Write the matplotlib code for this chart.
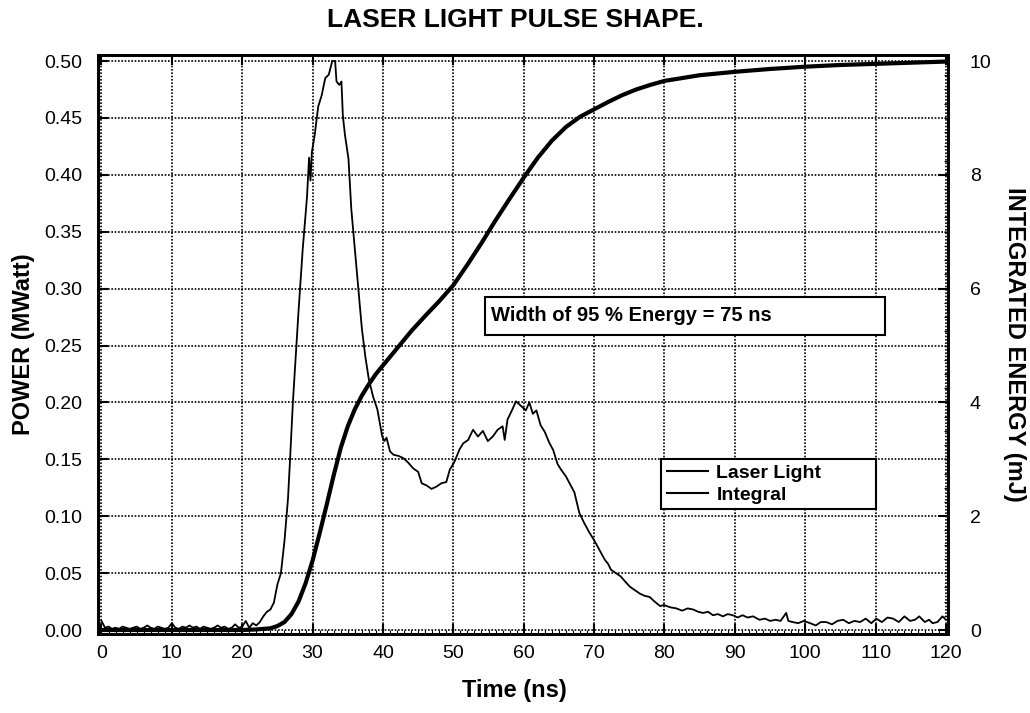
# plot.py
# Laser light pulse shape with integrated energy on a second axis
# Saves out.png

import matplotlib.pyplot as plt
from matplotlib.lines import Line2D
from matplotlib.patches import Rectangle
from matplotlib.ticker import MultipleLocator, FormatStrFormatter

plt.rcParams['font.family'] = ['Liberation Sans', 'DejaVu Sans']

# ── Data ─────────────────────────────────────────────────────────────────────
laser_t = [
    0, 0.5, 1, 1.5, 2, 2.5, 3, 3.5, 4, 4.5, 5, 5.5, 6, 6.5, 7, 7.5, 8, 8.5, 9, 9.5,
    10, 10.5, 11, 11.5, 12, 12.5, 13, 13.5, 14, 14.5, 15, 15.5, 16, 16.5, 17, 17.5,
    18, 18.5, 19, 19.5, 20, 20.5, 21, 21.5, 22, 22.5, 23, 23.5, 24, 24.5, 25, 25.5,
    26, 26.5, 26.8, 27.2, 27.6, 28, 28.6, 29.2, 29.5, 29.7, 29.9, 30.3, 30.8, 31.3,
    31.8, 32.3, 32.8, 33.2, 33.4, 33.8, 34.1, 34.3, 34.6, 35.1, 35.5, 36, 36.5, 37,
    37.5, 38, 38.6, 39.2, 39.9, 40.2, 40.5, 41, 41.5, 42.2, 42.9, 43.6, 44.3, 45,
    45.5, 46.2, 46.9, 47.6, 48.3, 49, 49.5, 50.1, 50.9, 51.4, 52.1, 52.8, 53.5,
    54.2, 54.9, 55.6, 56.3, 57, 57.3, 57.7, 58.4, 58.9, 59.6, 60.3, 60.8, 61.3,
    61.8, 62.4, 63, 63.6, 64.2, 64.8, 65.3, 66, 66.6, 67.2, 67.9, 68.6, 69.3, 70,
    70.8, 71.5, 72, 72.4, 73.1, 73.8, 74.5, 75.1, 75.8, 76.5, 77.2, 77.9, 78.6,
    79.4, 79.9, 80.8, 81.7, 82.5, 83.3, 84.1, 84.8, 85.5, 86.2, 86.9, 87.6, 88.3,
    89, 89.7, 90.4, 91.1, 91.8, 92.6, 93.5, 94.3, 95, 95.8, 96.5, 97.3, 97.6, 98.2,
    99, 99.8, 100.7, 101.5, 102.2, 103, 103.8, 104.6, 105.4, 106.2, 107, 107.8,
    108.6, 109.4, 110.1, 110.9, 111.7, 112.5, 113.3, 114.1, 114.9, 115.6, 116.2,
    117, 117.6, 118.1, 118.8, 119.5, 120,
]
laser_p = [
    0.008, 0.002, 0.003, 0.001, 0.002, 0.001, 0.003, 0.002, 0.001, 0.002, 0.003,
    0.001, 0.002, 0.004, 0.002, 0.001, 0.003, 0.002, 0.001, 0.002,
    0.006, 0.002, 0.001, 0.003, 0.002, 0.004, 0.002, 0.003, 0.001, 0.003, 0.002,
    0.001, 0.002, 0.004, 0.002, 0.003,
    0.001, 0.002, 0.005, 0.002, 0.003, 0.008, 0.002, 0.006, 0.004, 0.007, 0.012,
    0.016, 0.018, 0.024, 0.040, 0.050,
    0.078, 0.115, 0.150, 0.200, 0.240, 0.280, 0.335, 0.380, 0.415, 0.395, 0.420,
    0.435, 0.460, 0.470,
    0.485, 0.488, 0.500, 0.500, 0.482, 0.479, 0.482, 0.452, 0.435, 0.414, 0.370,
    0.335, 0.300, 0.265,
    0.240, 0.220, 0.205, 0.194, 0.170, 0.166, 0.169, 0.157, 0.154, 0.153, 0.151,
    0.147, 0.142, 0.139,
    0.129, 0.127, 0.124, 0.126, 0.129, 0.130, 0.141, 0.147, 0.159, 0.164, 0.167,
    0.176, 0.170,
    0.175, 0.166, 0.170, 0.176, 0.179, 0.167, 0.185, 0.194, 0.201, 0.197, 0.193,
    0.200, 0.190,
    0.193, 0.180, 0.174, 0.165, 0.158, 0.146, 0.141, 0.135, 0.128, 0.121, 0.103,
    0.094, 0.086, 0.079,
    0.070, 0.062, 0.058, 0.053, 0.050, 0.047, 0.042, 0.038, 0.035, 0.032, 0.030,
    0.029, 0.025,
    0.021, 0.022, 0.020, 0.019, 0.017, 0.019, 0.018, 0.016, 0.015, 0.016, 0.013,
    0.014, 0.012,
    0.014, 0.013, 0.011, 0.013, 0.011, 0.012, 0.009, 0.010, 0.008, 0.009, 0.008,
    0.015, 0.008, 0.007,
    0.006, 0.008, 0.006, 0.004, 0.007, 0.007, 0.005, 0.008, 0.009, 0.006, 0.008,
    0.007,
    0.010, 0.006, 0.010, 0.007, 0.011, 0.010, 0.007, 0.012, 0.008, 0.009, 0.012,
    0.007, 0.009, 0.006, 0.007, 0.012, 0.009,
]

integral_t = [0, 20, 22, 24, 25, 26, 27, 28, 29, 30, 31, 32, 33, 34, 35, 36, 37,
              38, 39, 40, 42, 44, 46, 48, 50, 52, 54, 56, 58, 60, 62, 64, 66, 68,
              70, 72, 74, 76, 78, 80, 85, 90, 95, 100, 105, 110, 115, 120]
integral_e = [0, 0, 0.01, 0.03, 0.07, 0.14, 0.28, 0.50, 0.82, 1.22, 1.70, 2.20,
              2.72, 3.20, 3.58, 3.88, 4.12, 4.32, 4.50, 4.65, 4.95, 5.25, 5.52,
              5.78, 6.06, 6.42, 6.80, 7.20, 7.58, 7.95, 8.30, 8.60, 8.84, 9.02,
              9.15, 9.28, 9.40, 9.50, 9.58, 9.65, 9.75, 9.81, 9.86, 9.90, 9.93,
              9.95, 9.97, 9.99]

# ── Figure / axes ────────────────────────────────────────────────────────────
fig = plt.figure(figsize=(10.3, 7.13), dpi=100)
fig.patch.set_facecolor('white')
ax = fig.add_axes([0.0951, 0.1108, 0.825, 0.8121])
ax2 = ax.twinx()

ax.set_xlim(-0.5, 120.25)
ax.set_ylim(-0.0035, 0.5053)
ax2.set_ylim(-0.07, 10.106)

ax.plot(laser_t, laser_p, color='black', lw=1.3, zorder=3)
ax2.plot(integral_t, integral_e, color='black', lw=3.0, zorder=3)

# ── Grid & ticks ─────────────────────────────────────────────────────────────
ax.xaxis.set_major_locator(MultipleLocator(10))
ax.xaxis.set_minor_locator(MultipleLocator(1))
ax.yaxis.set_major_locator(MultipleLocator(0.05))
ax.yaxis.set_major_formatter(FormatStrFormatter('%.2f'))
ax2.yaxis.set_major_locator(MultipleLocator(2))
ax2.yaxis.set_minor_locator(MultipleLocator(0.25))

ax.grid(True, which='major', color='black', linestyle=(0, (1, 1)), lw=1.2)
ax.set_axisbelow(True)

ax.tick_params(axis='both', which='major', direction='in', length=7, width=1.5,
               labelsize=14, top=True)
ax.tick_params(axis='x', which='major', pad=8)
ax.tick_params(axis='y', which='major', pad=11)
ax.tick_params(axis='x', which='minor', direction='in', length=3, width=0.8,
               bottom=True, top=False)
ax2.tick_params(axis='y', which='major', direction='in', length=7, width=1.5,
                labelsize=14, pad=16)
ax2.tick_params(axis='y', which='minor', direction='in', length=3, width=0.8)

for sp in list(ax.spines.values()) + list(ax2.spines.values()):
    sp.set_linewidth(2)

# ── Labels ───────────────────────────────────────────────────────────────────
fig.text(0.500, 0.972, 'LASER LIGHT PULSE SHAPE.', ha='center', va='center',
         fontsize=19, fontweight='bold')
ax.set_xlabel('Time (ns)', fontsize=17, fontweight='bold', labelpad=14)
ax.xaxis.set_label_coords(0.49, -0.078)
ax.set_ylabel('POWER (MWatt)', fontsize=17, fontweight='bold', labelpad=7)
ax2.set_ylabel('INTEGRATED ENERGY (mJ)', fontsize=17, fontweight='bold',
               rotation=270, va='bottom', labelpad=8)

# ── Annotation box ───────────────────────────────────────────────────────────
ax.add_patch(Rectangle((54.5, 0.259), 56.9, 0.034, facecolor='white',
                       edgecolor='black', lw=1.5, zorder=4))
ax.text(55.3, 0.276, 'Width of 95 % Energy = 75 ns', ha='left', va='center',
        fontsize=14.5, fontweight='bold', zorder=5)

# ── Legend ───────────────────────────────────────────────────────────────────
handles = [Line2D([], [], color='black', lw=1.5, label='Laser Light'),
           Line2D([], [], color='black', lw=1.5, label='Integral')]
leg = ax.legend(handles=handles, loc='upper left', mode='expand',
                bbox_to_anchor=(79.5, 0.100, 30.6, 0.0506),
                bbox_transform=ax.transData, fancybox=False,
                edgecolor='black', framealpha=1, borderaxespad=0,
                prop={'weight': 'bold', 'size': 14},
                handlelength=2.1, handletextpad=0.45, labelspacing=0.2,
                borderpad=0.3)
leg.get_frame().set_linewidth(1.5)
leg.set_zorder(6)

fig.savefig('out.png', dpi=100, facecolor='white')
